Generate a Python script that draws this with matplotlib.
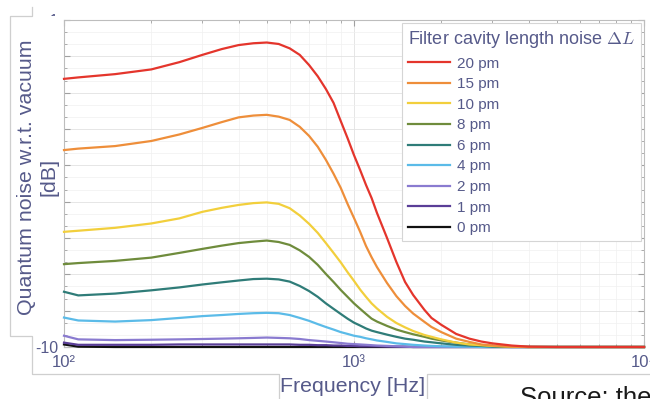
import matplotlib
matplotlib.use('Agg')
import matplotlib.pyplot as plt
from matplotlib.patches import Rectangle
from matplotlib.lines import Line2D
from matplotlib.ticker import FixedLocator, FixedFormatter, MultipleLocator, NullFormatter, LogLocator

plt.rcParams['font.family'] = ['Liberation Sans', 'DejaVu Sans']
plt.rcParams['mathtext.fontset'] = 'cm'
plt.rcParams['axes.unicode_minus'] = False

# frequency grid [Hz]
freq = [100, 112, 150, 200, 250, 300, 350, 400, 450, 500,
        550, 600, 650, 700, 750, 800, 850, 900, 950, 1000,
        1050, 1100, 1150, 1200, 1300, 1400, 1500, 1600, 1750, 1850,
        2000, 2250, 2500, 2750, 3000, 3500, 4000, 5000, 7000, 10000]

# quantum noise [dB] for each filter cavity length noise
noise_20pm = [-2.62, -2.58, -2.49, -2.36, -2.16, -1.96, -1.80, -1.69, -1.64, -1.62,
              -1.66, -1.78, -1.96, -2.24, -2.55, -2.90, -3.28, -3.78, -4.25, -4.72,
              -5.13, -5.54, -5.90, -6.31, -7.00, -7.66, -8.21, -8.57, -8.98, -9.20,
              -9.39, -9.64, -9.77, -9.85, -9.90, -9.96, -9.99, -10, -10, -10]
noise_15pm = [-4.58, -4.54, -4.47, -4.33, -4.15, -3.97, -3.81, -3.68, -3.63, -3.61,
              -3.66, -3.75, -3.94, -4.19, -4.49, -4.85, -5.23, -5.62, -6.06, -6.45,
              -6.83, -7.22, -7.53, -7.80, -8.24, -8.60, -8.87, -9.08, -9.31, -9.45,
              -9.59, -9.77, -9.86, -9.93, -9.96, -9.99, -10, -10, -10, -10]
noise_10pm = [-6.83, -6.80, -6.72, -6.60, -6.46, -6.28, -6.17, -6.09, -6.04, -6.02,
              -6.06, -6.18, -6.38, -6.61, -6.86, -7.14, -7.41, -7.67, -7.94, -8.18,
              -8.42, -8.62, -8.80, -8.94, -9.17, -9.34, -9.46, -9.56, -9.67, -9.72,
              -9.79, -9.88, -9.93, -9.95, -9.97, -9.99, -10, -10, -10, -10]
noise_8pm = [-7.72, -7.69, -7.63, -7.54, -7.41, -7.30, -7.21, -7.14, -7.10, -7.07,
             -7.11, -7.19, -7.34, -7.52, -7.74, -7.99, -8.21, -8.43, -8.62, -8.80,
             -8.95, -9.09, -9.22, -9.30, -9.42, -9.52, -9.59, -9.65, -9.72, -9.77,
             -9.82, -9.88, -9.93, -9.95, -9.97, -9.99, -10, -10, -10, -10]
noise_6pm = [-8.48, -8.58, -8.53, -8.44, -8.36, -8.28, -8.22, -8.17, -8.13, -8.12,
             -8.14, -8.20, -8.32, -8.46, -8.62, -8.80, -8.95, -9.09, -9.22, -9.33,
             -9.41, -9.49, -9.55, -9.59, -9.66, -9.72, -9.77, -9.80, -9.85, -9.87,
             -9.90, -9.94, -9.96, -9.97, -9.99, -10, -10, -10, -10, -10]
noise_4pm = [-9.19, -9.27, -9.30, -9.26, -9.20, -9.15, -9.12, -9.09, -9.07, -9.06,
             -9.07, -9.12, -9.20, -9.28, -9.37, -9.45, -9.52, -9.59, -9.64, -9.69,
             -9.72, -9.76, -9.79, -9.82, -9.86, -9.90, -9.92, -9.94, -9.96, -9.97,
             -9.98, -9.99, -9.99, -10, -10, -10, -10, -10, -10, -10]
noise_2pm = [-9.69, -9.79, -9.81, -9.80, -9.79, -9.78, -9.77, -9.76, -9.75, -9.74,
             -9.75, -9.76, -9.78, -9.81, -9.83, -9.85, -9.87, -9.89, -9.91, -9.92,
             -9.93, -9.94, -9.95, -9.96, -9.97, -9.98, -9.99, -10, -10, -10,
             -10, -10, -10, -10, -10, -10, -10, -10, -10, -10]
noise_1pm = [-9.88, -9.94, -9.94, -9.94, -9.93, -9.93, -9.93, -9.93, -9.93, -9.93,
             -9.93, -9.93, -9.94, -9.94, -9.95, -9.95, -9.96, -9.96, -9.97, -9.97,
             -9.98, -9.98, -9.98, -9.98, -9.99, -9.99, -9.99, -10, -10, -10,
             -10, -10, -10, -10, -10, -10, -10, -10, -10, -10]
noise_0pm = [-9.93, -9.99, -10, -10, -10, -10, -10, -10, -10, -10,
             -10, -10, -10, -10, -10, -10, -10, -10, -10, -10,
             -10, -10, -10, -10, -10, -10, -10, -10, -10, -10,
             -10, -10, -10, -10, -10, -10, -10, -10, -10, -10]

labels = ['20 pm', '15 pm', '10 pm', '8 pm', '6 pm', '4 pm', '2 pm', '1 pm', '0 pm']
series = [noise_20pm, noise_15pm, noise_10pm, noise_8pm, noise_6pm, noise_4pm, noise_2pm, noise_1pm, noise_0pm]
colors = ['#e4352c', '#ee8e3a', '#f2cf3c', '#6f8c3c', '#2f7c78', '#5bbbe8', '#8a7bd0', '#5a3e97', '#111111']

xtick_vals = [100, 1000, 10000]
xtick_labels = ['10²', '10³', '10⁴']
ytick_vals = [-10, -9, -8, -7, -6, -5, -4, -3, -2, -1]
ytick_labels = ['-10', '', '', '', '', '', '', '', '', '-1']

TXT = '#565a8a'
W, H = 650, 399


def fx(px):
    return px / W


def fy(py):
    return 1 - py / H


fig = plt.figure(figsize=(6.5, 3.99), dpi=100)
ax = fig.add_axes([fx(64), fy(347), (644 - 64) / W, (347 - 20) / H])

# draw from the bottom series up so the red ends on top
for vals, c, lab in list(zip(series, colors, labels))[::-1]:
    ax.plot(freq, vals, color=c, lw=1.6, label=lab, clip_on=False, zorder=3,
            solid_joinstyle='round')

ax.set_xscale('log')
ax.set_xlim(100, 10000)
ax.set_ylim(-10, -1)
ax.xaxis.set_major_locator(FixedLocator(xtick_vals))
ax.xaxis.set_major_formatter(FixedFormatter(xtick_labels))
ax.xaxis.set_minor_locator(LogLocator(base=10, subs=range(2, 10)))
ax.xaxis.set_minor_formatter(NullFormatter())
ax.yaxis.set_major_locator(FixedLocator(ytick_vals))
ax.yaxis.set_major_formatter(FixedFormatter(ytick_labels))
ax.yaxis.set_minor_locator(MultipleLocator(1 / 3))
ax.grid(True, which='major', color='#e2e2e2', lw=0.6)
ax.grid(True, which='minor', color='#f0f0f0', lw=0.5)
ax.set_axisbelow(True)
for s in ax.spines.values():
    s.set_color('#bdbdbd')
    s.set_linewidth(0.8)
ax.tick_params(which='both', direction='in', top=True, right=True, colors='#a0a0a0', labelcolor=TXT)
ax.tick_params(which='major', length=4)
ax.tick_params(which='minor', length=2.5)
ax.tick_params(axis='x', labelsize=12, pad=6)
ax.tick_params(axis='y', labelsize=11.5, pad=4)

handles, labs = ax.get_legend_handles_labels()
leg = ax.legend(handles[::-1], labs[::-1], title='Filter cavity length noise $\\Delta L$',
                loc='upper right', bbox_to_anchor=(0.995, 0.991), borderaxespad=0,
                fontsize=11, title_fontsize=13, labelcolor=TXT, fancybox=False,
                edgecolor='#d5d5d5', framealpha=1, handlelength=2.75, handletextpad=0.45,
                labelspacing=0.43, borderpad=0.4, alignment='left')
leg.get_title().set_color(TXT)
leg.get_frame().set_linewidth(0.8)

# slide overlays: label boxes and the frame of the pasted chart
EDGE = '#cfcfcf'
fig.patches.append(Rectangle((fx(10), fy(336)), fx(62) - fx(10), fy(16) - fy(336),
                             transform=fig.transFigure, facecolor='white', edgecolor='none', zorder=5))
fig.patches.append(Rectangle((fx(279), 0), fx(427) - fx(279), fy(374),
                             transform=fig.transFigure, facecolor='white', edgecolor='none', zorder=5))
fig.lines.append(Line2D([fx(p) for p in [32, 32, 10, 10, 32, 32, 279, 279]],
                        [fy(p) for p in [7, 16, 16, 336, 336, 374, 374, 399]],
                        transform=fig.transFigure, color=EDGE, lw=0.9, zorder=6))
fig.lines.append(Line2D([fx(p) for p in [427, 427, 660]],
                        [fy(p) for p in [399, 374, 374]],
                        transform=fig.transFigure, color=EDGE, lw=0.9, zorder=6))

fig.text(fx(38), fy(177), 'Quantum noise w.r.t. vacuum\n[dB]', rotation=90, ha='center', va='center',
         fontsize=15.4, color=TXT, linespacing=1.2, multialignment='center', zorder=7)
fig.text(fx(353), fy(387), 'Frequency [Hz]', ha='center', va='center', fontsize=15.4, color=TXT, zorder=7)
fig.text(fx(520), fy(386), 'Source: the', ha='left', va='top', fontsize=18.5, color='#1a1a1a', zorder=7)

fig.savefig('out.png', dpi=100)
